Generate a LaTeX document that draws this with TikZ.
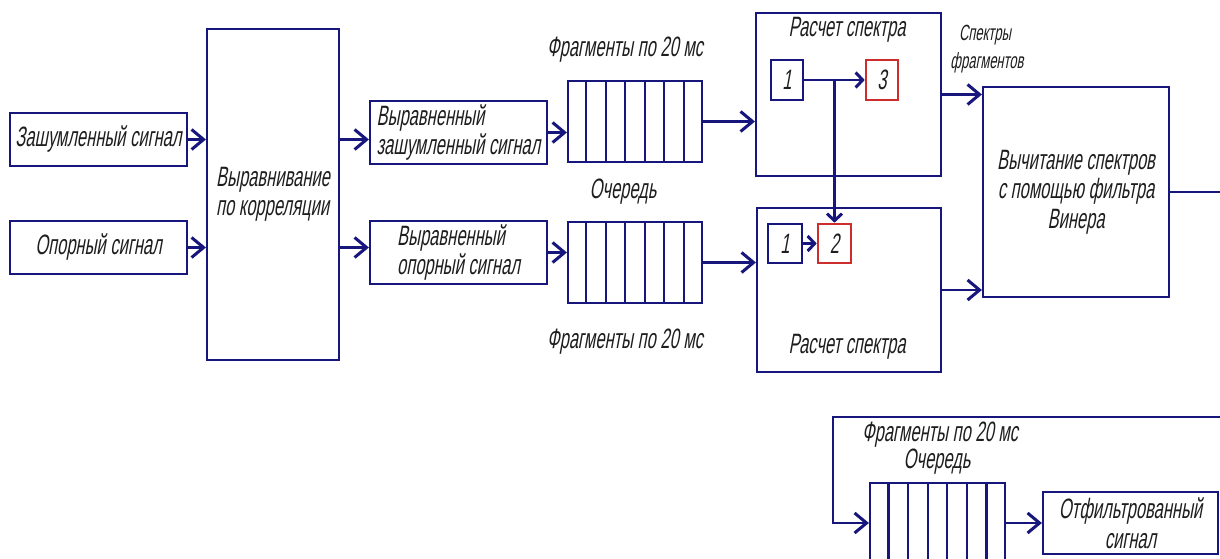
\documentclass[tikz,border=0pt]{standalone}
\usepackage{fontspec}
\newfontfamily\gost{Liberation Sans}[FakeStretch=0.59,FakeSlant=0.18]
\usetikzlibrary{arrows.meta,calc}
\definecolor{navy}{RGB}{22,22,125}
\definecolor{redbox}{RGB}{205,45,45}
\definecolor{txt}{RGB}{30,30,30}
\tikzset{
  mainfont/.style={font=\gost\fontsize{28}{29.5}\selectfont},
  box/.style={draw=navy, line width=2.2pt, inner sep=0pt, text=txt, mainfont, align=center},
  lbox/.style={box, align=left},
  redb/.style={draw=redbox, line width=2.6pt, inner sep=0pt, text=txt, mainfont},
  queue/.style={draw=navy, line width=2.2pt, inner sep=0pt},
  lbl/.style={text=txt, mainfont, inner sep=0pt},
  slbl/.style={text=txt, font=\gost\fontsize{22}{23}\selectfont, inner sep=0pt},
  ln/.style={draw=navy, line width=2.2pt},
  arr/.style={draw=navy, line width=2.2pt, -{Straight Barb[length=12pt,width=20pt,line width=3pt]}},
  sarr/.style={draw=navy, line width=2.2pt, -{Straight Barb[length=7pt,width=15pt,line width=3pt]}},
}
\begin{document}
\begin{tikzpicture}[x=1pt,y=-1pt]
\clip (0,0) rectangle (1220,559);
\fill[white] (0,0) rectangle (1220,559);

% boxes
\node[box, minimum width=177pt, minimum height=53pt] (zash) at (98.5,139.5) {Зашумленный сигнал};
\node[box, minimum width=177pt, minimum height=53pt] (opor) at (98.5,247.5) {Опорный сигнал};
\node[lbox, minimum width=132pt, minimum height=331pt] (corr) at (273,194.5) {Выравнивание\\по корреляции};
\node[lbox, minimum width=177pt, minimum height=63pt] (vz) at (458.5,132.5) {Выравненный\\зашумленный сигнал};
\node[lbox, minimum width=177pt, minimum height=63pt] (vo) at (458.5,252.5) {Выравненный\\опорный сигнал};
\node[queue, minimum width=134pt, minimum height=81pt] (q1) at (635,121.5) {};
\node[queue, minimum width=134pt, minimum height=81pt] (q2) at (635,262.5) {};
\node[box, minimum width=185pt, minimum height=163pt] (rs1) at (848.5,94.5) {};
\node[box, minimum width=184pt, minimum height=164pt] (rs2) at (849,290) {};
\node[box, minimum width=32pt, minimum height=40pt] (b1a) at (787,80) {1};
\node[redb, minimum width=32pt, minimum height=40pt] (b3) at (882,80) {3};
\node[box, minimum width=34pt, minimum height=39pt] (b1b) at (785,243.5) {1};
\node[redb, minimum width=33pt, minimum height=39pt] (b2) at (834.5,243.5) {2};
\node[box, minimum width=186pt, minimum height=210pt] (vych) at (1076,192) {Вычитание спектров\\с помощью фильтра\\Винера};
\node[queue, minimum width=135pt, minimum height=120pt, anchor=north] (q3) at (937.5,482) {};
\node[box, minimum width=175pt, minimum height=62pt] (filt) at (1130.5,523) {Отфильтрованный\\сигнал};

% queue dividers
\foreach \q in {q1,q2,q3}
  \foreach \i in {1,...,6}
    \draw[ln] ($(\q.north west)!\i/7!(\q.north east)$) -- ($(\q.south west)!\i/7!(\q.south east)$);

% labels
\node[lbl] (f1) at (625,50) {Фрагменты по 20 мс};
\node[lbl] (o1) at (623,192) {Очередь};
\node[lbl] (f2) at (625,342) {Фрагменты по 20 мс};
\node[lbl] (r1) at (847,30) {Расчет спектра};
\node[lbl] (r2) at (847,347) {Расчет спектра};
\node[slbl] (s1) at (985,35) {Спектры};
\node[slbl] (s2) at (987,63) {фрагментов};
\node[lbl] (f3) at (940,435) {Фрагменты по 20 мс};
\node[lbl] (o3) at (937,462) {Очередь};

% connectors
\draw[arr] (zash.east) -- (zash.east -| corr.west);
\draw[arr] (opor.east) -- (opor.east -| corr.west);
\draw[arr] (zash.east -| corr.east) -- (zash.east -| vz.west);
\draw[arr] (opor.east -| corr.east) -- (opor.east -| vo.west);
\draw[arr] (vz.east) -- (vz.east -| q1.west);
\draw[arr] (vo.east) -- (vo.east -| q2.west);
\draw[arr] (q1.east) -- (q1.east -| rs1.west);
\draw[arr] (q2.east) -- (q2.east -| rs2.west);
\draw[sarr] (b1a.east) -- (b1a.east -| b3.west);
\draw[sarr] (b1a.east -| b2.north) -- (b2.north);
\draw[sarr] (b1b.east) -- (b1b.east -| b2.west);
\draw[arr] (rs1.east) -- (rs1.east -| vych.west);
\draw[arr] (rs2.east) -- (rs2.east -| vych.west);
\coordinate (out1) at (1225,192);
\draw[ln] (vych.east) -- (out1);
\coordinate (ret) at (1225,417);
\coordinate (c1) at (833,417);
\draw[arr] (ret) -- (c1) |- (q3.west |- filt.west);
\draw[arr] (q3.east |- filt.west) -- (filt.west);
\end{tikzpicture}
\end{document}
